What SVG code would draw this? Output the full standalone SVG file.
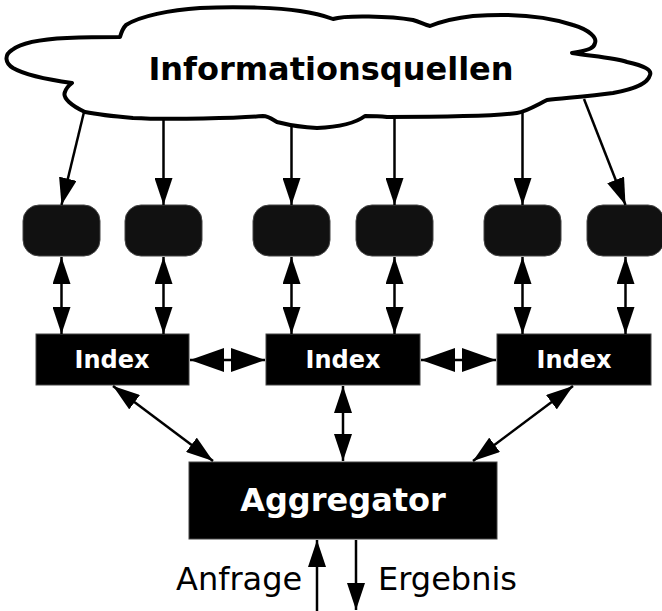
<svg xmlns="http://www.w3.org/2000/svg" width="662" height="611" viewBox="0 0 662 611">
<style>
.src{fill:#111;stroke:#444;stroke-width:1}
.idx{fill:#000;stroke:#444;stroke-width:1}
.w{fill:#fff;font-family:"DejaVu Sans",sans-serif;font-weight:bold;text-anchor:middle}
.k{fill:#000;font-family:"DejaVu Sans",sans-serif}
.ln{stroke:#000;stroke-width:2.5;fill:none}
</style>
<defs>
<marker id="a" viewBox="0 0 27 18" refX="27" refY="9" markerWidth="27" markerHeight="18" markerUnits="userSpaceOnUse" orient="auto-start-reverse"><path d="M0,0 L27,9 L0,18 z" fill="#000"/></marker>
<marker id="b" viewBox="0 0 34 24" refX="34" refY="12" markerWidth="34" markerHeight="24" markerUnits="userSpaceOnUse" orient="auto-start-reverse"><path d="M0,0 L34,12 L0,24 z" fill="#000"/></marker>
</defs>
<g id="cloud">
<path d="M120,37 C122,30 124,27 126,25 C140,16 170,10 200,8 C240,6 280,8 300,11 C315,13 325,16 333,19 C345,15 390,16 413,20 C420,22 425,25 430,26 C440,22 455,18 473,16 C500,14 540,14 573,25 C590,30 597,38 595,43 C594,48 590,50 572,53 C590,56 615,58 627,62 C645,66 652,70 650,75 C648,82 640,88 613,93 C590,96 565,98 547,100 C535,106 525,112 517,113 C490,117 410,117 387,117 C378,116 370,116 365,116 C357,122 340,127 317,128 C295,127 285,124 277,122 C272,119 268,116 263,116 C240,118 170,120 133,118 C110,116 90,113 85,112 C72,106 62,98 65,92 C66,88 68,86 72,83 C50,80 25,75 13,68 C5,63 4,55 12,50 C22,42 45,39 67,38 C90,37 110,37 120,37 Z" fill="#fff" stroke="#000" stroke-width="4" stroke-linejoin="round"/>
<text x="331" y="80" class="k" font-size="32" font-weight="bold" text-anchor="middle">Informationsquellen</text>
</g>
<g id="src1"><rect class="src" x="23" y="205" width="77" height="51" rx="16"/></g>
<g id="src2"><rect class="src" x="125" y="205" width="77" height="51" rx="16"/></g>
<g id="src3"><rect class="src" x="253" y="205" width="77" height="51" rx="16"/></g>
<g id="src4"><rect class="src" x="356" y="205" width="77" height="51" rx="16"/></g>
<g id="src5"><rect class="src" x="484" y="205" width="77" height="51" rx="16"/></g>
<g id="src6"><rect class="src" x="587" y="205" width="77" height="51" rx="16"/></g>
<g id="index1"><rect class="idx" x="36" y="334" width="153" height="51"/><text x="112" y="368" class="w" font-size="24">Index</text></g>
<g id="index2"><rect class="idx" x="266" y="334" width="154" height="51"/><text x="343" y="368" class="w" font-size="24">Index</text></g>
<g id="index3"><rect class="idx" x="497" y="334" width="154" height="51"/><text x="574" y="368" class="w" font-size="24">Index</text></g>
<g id="aggregator"><rect class="idx" x="189" y="462" width="308" height="77"/><text x="343" y="511" class="w" font-size="32">Aggregator</text></g>
<g id="connectors">
<line class="ln" x1="84" y1="112" x2="61.5" y2="205" marker-end="url(#a)"/>
<line class="ln" x1="163.5" y1="118" x2="163.5" y2="205" marker-end="url(#a)"/>
<line class="ln" x1="291.5" y1="126" x2="291.5" y2="205" marker-end="url(#a)"/>
<line class="ln" x1="394.5" y1="118" x2="394.5" y2="205" marker-end="url(#a)"/>
<line class="ln" x1="522.5" y1="112" x2="522.5" y2="205" marker-end="url(#a)"/>
<line class="ln" x1="584" y1="99" x2="625.5" y2="205" marker-end="url(#a)"/>
<line class="ln" x1="61.5" y1="257" x2="61.5" y2="334" marker-start="url(#a)" marker-end="url(#a)"/>
<line class="ln" x1="163.5" y1="257" x2="163.5" y2="334" marker-start="url(#a)" marker-end="url(#a)"/>
<line class="ln" x1="291.5" y1="257" x2="291.5" y2="334" marker-start="url(#a)" marker-end="url(#a)"/>
<line class="ln" x1="394.5" y1="257" x2="394.5" y2="334" marker-start="url(#a)" marker-end="url(#a)"/>
<line class="ln" x1="522.5" y1="257" x2="522.5" y2="334" marker-start="url(#a)" marker-end="url(#a)"/>
<line class="ln" x1="625.5" y1="257" x2="625.5" y2="334" marker-start="url(#a)" marker-end="url(#a)"/>
<line class="ln" x1="190" y1="360" x2="265" y2="360" marker-start="url(#b)" marker-end="url(#b)"/>
<line class="ln" x1="421" y1="360" x2="496" y2="360" marker-start="url(#b)" marker-end="url(#b)"/>
<line class="ln" x1="113" y1="386" x2="213" y2="461" marker-start="url(#a)" marker-end="url(#a)"/>
<line class="ln" x1="343" y1="386" x2="343" y2="461" marker-start="url(#a)" marker-end="url(#a)"/>
<line class="ln" x1="573" y1="386" x2="473" y2="461" marker-start="url(#a)" marker-end="url(#a)"/>
<line class="ln" x1="317" y1="611" x2="317" y2="540" marker-end="url(#a)"/>
<line class="ln" x1="356" y1="540" x2="356" y2="610" marker-end="url(#a)"/>
</g>
<text x="176" y="590" class="k" font-size="32">Anfrage</text>
<text x="378" y="590" class="k" font-size="32">Ergebnis</text>
</svg>
